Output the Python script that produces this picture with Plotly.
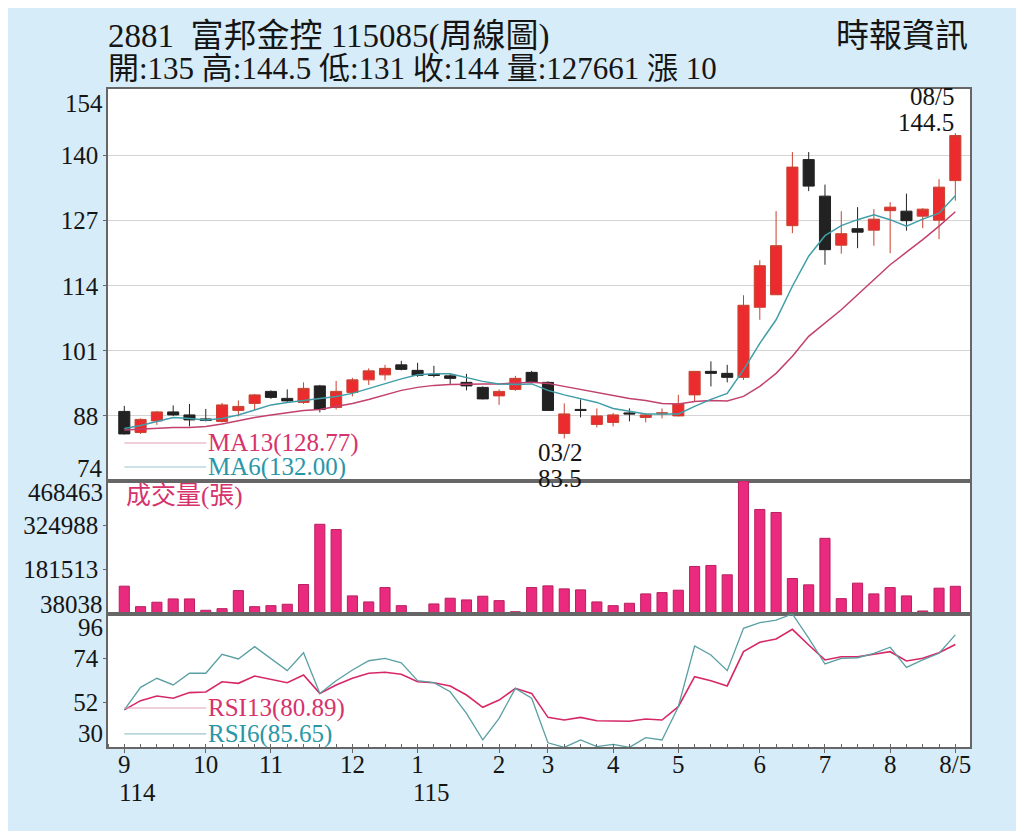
import plotly.graph_objects as go
from plotly.subplots import make_subplots

# weekly candles, 52 weeks (index 0 = first week of 114/9)
opens = [88.9, 84.7, 87.0, 88.8, 88.2, 87.4, 86.9, 89.1, 90.5, 92.9,
         91.5, 90.7, 94.0, 89.7, 92.7, 95.2, 96.2, 98.2, 97.1, 96.3,
         96.0, 94.7, 93.7, 92.0, 93.3, 96.7, 94.7, 84.5, 89.3, 86.3,
         86.7, 88.6, 87.7, 88.4, 88.0, 92.2, 96.9, 96.5, 95.7, 109.7,
         112.2, 126.0, 139.2, 131.9, 122.1, 125.4, 125.1, 129.0, 128.9, 127.9,
         127.1, 135.0]
highs = [90.0, 87.5, 89.0, 90.1, 90.4, 89.4, 90.6, 91.1, 92.4, 93.1,
         93.3, 94.7, 94.2, 95.0, 95.6, 97.5, 98.2, 99.0, 98.6, 98.0,
         96.4, 96.4, 93.9, 93.3, 96.0, 97.0, 94.9, 90.5, 91.3, 89.5,
         88.6, 89.5, 88.5, 89.5, 92.2, 96.9, 98.9, 98.2, 112.1, 119.1,
         128.9, 140.7, 140.7, 134.2, 128.9, 129.7, 129.3, 130.7, 132.4, 129.5,
         135.3, 144.5]
lows = [84.3, 84.4, 86.2, 88.0, 85.9, 86.9, 86.7, 87.9, 89.2, 91.4,
        90.8, 90.4, 88.7, 89.3, 91.9, 94.2, 95.1, 97.1, 95.8, 95.7,
        94.4, 93.1, 91.3, 90.2, 93.0, 94.5, 89.0, 83.5, 87.7, 85.7,
        85.9, 86.9, 86.7, 87.5, 87.9, 90.9, 93.9, 94.7, 95.2, 107.2,
        112.2, 124.5, 132.9, 118.2, 120.4, 121.5, 122.0, 120.5, 125.0, 125.5,
        123.3, 131.0]
closes = [84.4, 87.3, 88.8, 88.2, 87.2, 87.1, 90.2, 89.9, 92.2, 91.7,
          91.0, 93.5, 89.3, 92.9, 95.2, 97.0, 97.5, 97.3, 96.1, 96.1,
          95.5, 94.0, 91.4, 92.9, 95.5, 94.7, 89.1, 88.4, 89.1, 88.0,
          88.2, 88.4, 88.2, 88.6, 90.4, 96.9, 96.5, 95.7, 110.1, 118.0,
          122.0, 137.7, 133.9, 121.2, 124.4, 124.7, 127.3, 129.7, 127.0, 129.3,
          133.7, 144.0]

ma13 = [85.2, 85.4, 85.5, 85.7, 85.7, 85.9, 86.4, 87.1, 87.7, 88.2,
        88.7, 89.1, 89.3, 89.9, 90.5, 91.3, 92.2, 93.1, 93.7, 94.1,
        94.3, 94.4, 94.4, 94.4, 94.5, 94.7, 94.5, 93.9, 93.3, 92.7,
        92.1, 91.5, 91.1, 90.5, 90.4, 90.9, 91.1, 91.0, 91.9, 93.9,
        96.5, 99.9, 103.9, 106.5, 109.2, 112.2, 115.2, 118.2, 120.7, 123.2,
        125.9, 128.77]
ma6 = [85.5, 86.1, 86.9, 87.7, 87.5, 87.2, 87.5, 88.2, 89.2, 90.2,
       90.7, 91.1, 91.4, 91.9, 92.5, 93.5, 94.5, 95.4, 96.2, 96.4,
       96.4, 95.7, 94.9, 94.4, 94.3, 94.4, 93.1, 92.2, 91.5, 90.7,
       89.5, 88.9, 88.4, 88.4, 88.4, 89.9, 91.3, 92.5, 97.2, 102.5,
       107.2, 113.9, 119.9, 124.0, 126.0, 127.2, 128.2, 127.2, 125.9, 127.3,
       128.5, 132.0]

volume = [128100, 61800, 76100, 86800, 86800, 50100, 55300, 113800, 61800, 65000,
          69600, 133400, 328500, 311300, 96600, 77100, 123600, 65000, 42300, 70600,
          89100, 83600, 95600, 81300, 45500, 123600, 129100, 119400, 116100, 77100,
          65000, 72800, 103100, 107300, 115100, 191900, 195200, 164900, 468463, 376400,
          366600, 152900, 132400, 283000, 87800, 137900, 103100, 123600, 96600, 47800,
          121600, 127661]

rsi13 = [48.4, 53.0, 55.3, 54.2, 57.0, 57.3, 62.4, 61.6, 65.2, 63.6,
         61.9, 65.7, 56.6, 60.8, 64.1, 66.6, 67.1, 66.1, 62.4, 61.9,
         60.3, 55.8, 49.7, 53.3, 59.1, 56.6, 44.7, 43.4, 44.7, 43.0,
         43.0, 42.8, 43.9, 43.4, 50.0, 64.9, 62.9, 60.3, 77.3, 82.0,
         83.6, 88.4, 80.6, 73.2, 74.8, 74.8, 76.0, 77.3, 72.7, 74.0,
         76.8, 80.89]
rsi6 = [48.4, 59.6, 64.1, 60.8, 66.6, 66.6, 76.0, 73.7, 79.8, 74.0,
        67.9, 76.8, 56.6, 62.9, 68.2, 72.8, 74.0, 71.8, 62.9, 61.9,
        57.4, 46.7, 33.5, 44.2, 59.1, 54.2, 32.1, 29.8, 33.5, 30.2,
        31.3, 29.8, 34.6, 33.5, 50.0, 80.1, 75.7, 67.9, 88.9, 91.7,
        93.0, 96.0, 84.0, 71.2, 74.0, 74.3, 76.5, 79.5, 69.5, 73.2,
        76.5, 85.65]

weeks = list(range(len(closes)))
month_pos = [0, 5, 9, 14, 18, 23, 26, 30, 34, 39, 43, 47, 51]
month_txt = ['9', '10', '11', '12', '1', '2', '3', '4', '5', '6', '7', '8', '8/5']
year_marks = [(0, '114'), (18, '115')]

price_ticks = [88, 101, 114, 127, 140]
vol_ticks = [181513, 324988]
rsi_ticks = [52, 74]

FONT = "Liberation Serif, 'Noto Sans CJK TC', serif"
BG = '#d6ecf8'
RED = '#ec2b2e'
PINK = '#d6336c'
TEAL = '#2a97a8'
AX = '#666666'
INK = '#151515'

fig = make_subplots(rows=3, cols=1, shared_xaxes=True, vertical_spacing=0,
                    row_heights=[392, 133, 133])

fig.add_trace(go.Candlestick(x=weeks, open=opens, high=highs, low=lows, close=closes,
                             increasing=dict(fillcolor=RED, line=dict(color='#c9412f', width=1)),
                             decreasing=dict(fillcolor='#222222', line=dict(color='#222222', width=1)),
                             whiskerwidth=0, showlegend=False), row=1, col=1)
fig.add_trace(go.Scatter(x=weeks, y=ma13, mode='lines', line=dict(color='#c2406e', width=1.5),
                         showlegend=False), row=1, col=1)
fig.add_trace(go.Scatter(x=weeks, y=ma6, mode='lines', line=dict(color='#3f9ea8', width=1.5),
                         showlegend=False), row=1, col=1)

fig.add_trace(go.Bar(x=weeks, y=volume, width=0.62, marker=dict(color='#ea2a7e', line=dict(color='#b8205e', width=1)),
                     showlegend=False), row=2, col=1)

fig.add_trace(go.Scatter(x=weeks, y=rsi13, mode='lines', line=dict(color='#d62867', width=1.6),
                         showlegend=False), row=3, col=1)
fig.add_trace(go.Scatter(x=weeks, y=rsi6, mode='lines', line=dict(color='#5a9fa3', width=1.3),
                         showlegend=False), row=3, col=1)

xcommon = dict(range=[-1, 51.9], showline=True, linecolor=AX, linewidth=1.5, mirror=True,
               showgrid=False, zeroline=False, automargin=False)
fig.update_xaxes(**xcommon, showticklabels=False, ticks='')
fig.update_xaxes(row=3, col=1, showticklabels=True, tickmode='array', tickvals=month_pos,
                 ticktext=month_txt, ticks='outside', ticklen=4, tickcolor=AX, ticklabelstandoff=-10,
                 tickfont=dict(family=FONT, size=25, color=INK),
                 minor=dict(tickmode='linear', tick0=0, dtick=1, ticks='inside', ticklen=3, tickcolor=AX))
fig.update_layout(xaxis_rangeslider_visible=False)

ycommon = dict(showline=True, linecolor=AX, linewidth=1.5, mirror=True, zeroline=False,
               ticks='outside', ticklen=3, tickcolor=AX, automargin=False,
               tickfont=dict(family=FONT, size=25, color=INK))
fig.update_yaxes(row=1, col=1, **ycommon, range=[75, 153.3], tickvals=price_ticks,
                 showgrid=True, gridcolor='#d4d4d4', gridwidth=1)
fig.update_yaxes(row=2, col=1, **ycommon, range=[38038, 468463], tickvals=vol_ticks,
                 ticktext=[str(v) for v in vol_ticks], showgrid=False)
fig.update_yaxes(row=3, col=1, **ycommon, range=[30, 96], tickvals=rsi_ticks, showgrid=False)

anns = []
# edge labels of each panel, nudged inside like the original
edges = [('y domain', 0.964, '154'), ('y domain', 0.033, '74'),
         ('y2 domain', 0.917, '468463'), ('y2 domain', 0.075, '38038'),
         ('y3 domain', 0.895, '96'), ('y3 domain', 0.105, '30')]
for yref, yv, t in edges:
    anns.append(dict(xref='paper', yref=yref, x=0, y=yv, text=t, showarrow=False,
                     xanchor='right', yanchor='middle', xshift=-3,
                     font=dict(family=FONT, size=25, color=INK)))

for pos, t in year_marks:
    anns.append(dict(xref='x3', yref='paper', x=pos, y=-0.046, text=t, showarrow=False,
                     xanchor='left', yanchor='top', xshift=-7,
                     font=dict(family=FONT, size=25, color=INK)))

# header
anns.append(dict(xref='paper', yref='paper', x=-0.002, y=1.08, text='2881  富邦金控 115085(周線圖)',
                 showarrow=False, xanchor='left', yanchor='middle',
                 font=dict(family=FONT, size=33, color=INK)))
anns.append(dict(xref='paper', yref='paper', x=-0.002, y=1.031, text='開:135 高:144.5 低:131 收:144 量:127661 漲 10',
                 showarrow=False, xanchor='left', yanchor='middle',
                 font=dict(family=FONT, size=31, color=INK)))
anns.append(dict(xref='paper', yref='paper', x=1.0, y=1.08, text='時報資訊',
                 showarrow=False, xanchor='right', yanchor='middle',
                 font=dict(family=FONT, size=33, color=INK)))

# high / low marks
for t, dy in [('08/5', 37), ('144.5', 11)]:
    anns.append(dict(xref='x', yref='y', x=51, y=highs[51], text=t, showarrow=False,
                     xanchor='right', yanchor='middle', xshift=1, yshift=dy,
                     font=dict(family=FONT, size=25, color=INK)))
for t, dy in [('03/2', -14), ('83.5', -40)]:
    anns.append(dict(xref='x', yref='y', x=27, y=lows[27], text=t, showarrow=False,
                     xanchor='center', yanchor='middle', xshift=-4, yshift=dy,
                     font=dict(family=FONT, size=25, color=INK)))

# legend texts
legend_items = [(0.462, 'MA13(128.77)', PINK, '#e0a0b4'), (0.4255, 'MA6(132.00)', TEAL, '#9cc6cc'),
                (0.0593, 'RSI13(80.89)', PINK, '#e0a0b4'), (0.0198, 'RSI6(85.65)', TEAL, '#9cc6cc')]
shapes = []
for yv, t, c, lc in legend_items:
    anns.append(dict(xref='paper', yref='paper', x=0.114, y=yv, text=t, showarrow=False,
                     xanchor='left', yanchor='middle', font=dict(family=FONT, size=25, color=c)))
    shapes.append(dict(type='line', xref='paper', yref='paper', x0=0.019, x1=0.114, y0=yv, y1=yv,
                       line=dict(color=lc, width=1.2)))
anns.append(dict(xref='paper', yref='paper', x=0.018, y=0.381, text='成交量(張)', showarrow=False,
                 xanchor='left', yanchor='middle', font=dict(family=FONT, size=25, color=PINK)))

# the page adds an 8px body margin, so the plot box is set 8px up/left
fig.update_layout(width=1024, height=831, margin=dict(l=100, r=62, t=81, b=92),
                  paper_bgcolor=BG, plot_bgcolor='white', annotations=anns, shapes=shapes,
                  boxgap=0.32, boxgroupgap=0, bargap=0.3, showlegend=False)

fig.write_html("out.html")
